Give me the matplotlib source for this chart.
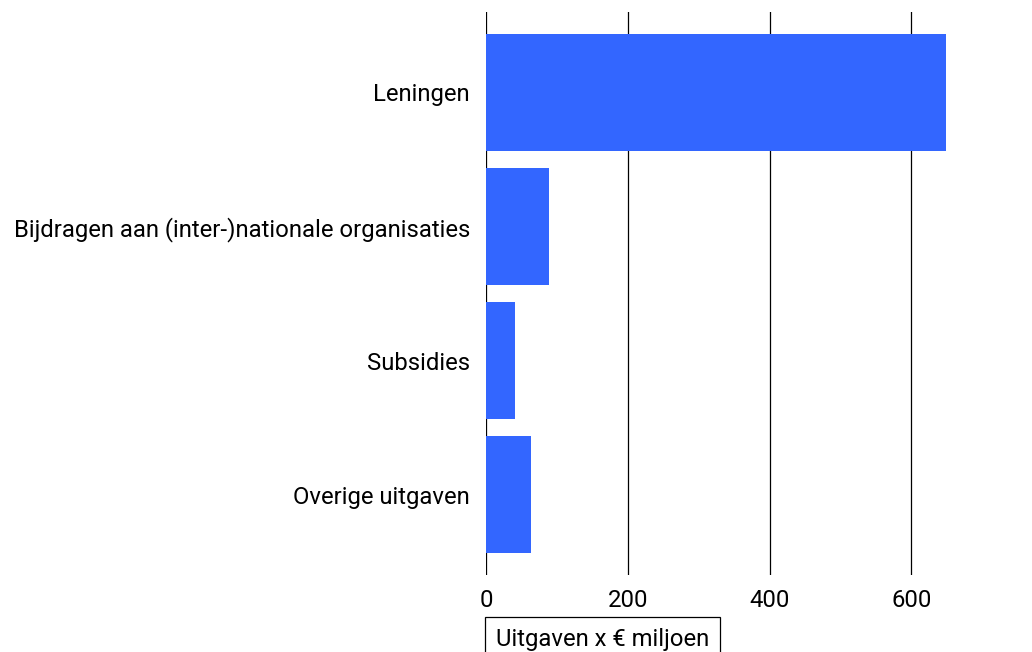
import matplotlib
matplotlib.use("Agg")
import matplotlib.pyplot as plt

plt.rcParams['font.family'] = ['Roboto', 'DejaVu Sans']

categories = ["Leningen", "Bijdragen aan (inter-)nationale organisaties", "Subsidies", "Overige uitgaven"]
values = [649, 89, 41, 63]
xticks = [0, 200, 400, 600]

fig = plt.figure(figsize=(10.32, 6.52), dpi=100)
ax = fig.add_axes([486/1032, 1 - 575/652, 1 - 486/1032, (575 - 12)/652])

ypos = list(range(len(categories)))
ax.barh(ypos, values, height=0.87, color="#3366ff", zorder=2)
ax.set_yticks(ypos)
ax.set_yticklabels(categories, fontsize=17.2)
ax.set_ylim(3.6, -0.6)
ax.set_xlim(0, 770)
ax.set_xticks(xticks)
ax.set_xticklabels([str(t) for t in xticks], fontsize=17.2)
ax.tick_params(length=0, pad=10)
ax.tick_params(axis='y', pad=11.5)

for t in xticks:
    ax.axvline(t, color="black", lw=0.9, zorder=1)
for s in ax.spines.values():
    s.set_visible(False)

ax.set_xlabel("Uitgaven x € miljoen", fontsize=17.2, ha="left", va="center",
              bbox=dict(boxstyle="square,pad=0.45", fc="white", ec="black", lw=0.9))
ax.xaxis.set_label_coords(0.0176, -0.114)

fig.savefig("out.png", dpi=100)
